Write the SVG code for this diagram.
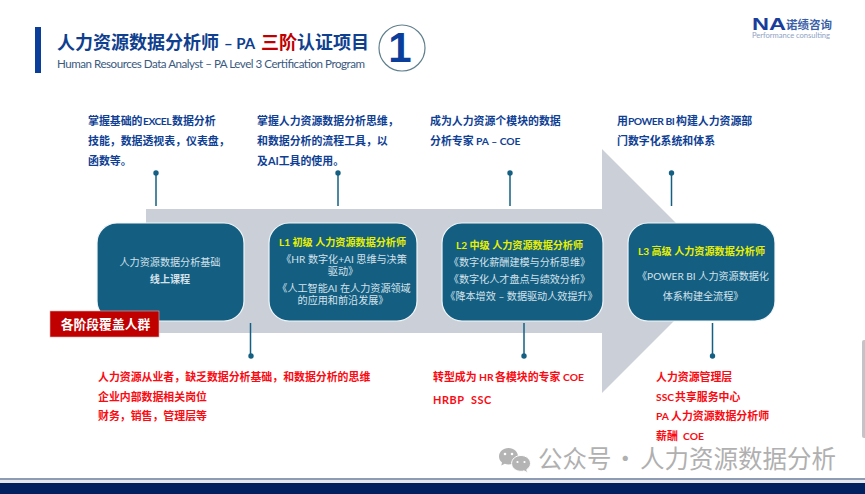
<svg xmlns="http://www.w3.org/2000/svg" width="865" height="494" viewBox="0 0 865 494">
<style>
text{font-family:"Lato","Noto Sans CJK SC",sans-serif}
.cjk{font-family:"Noto Sans CJK SC","Lato",sans-serif}
.blue{font-size:10.9px;font-weight:700;fill:#0f3f94}
.red{font-size:10.9px;font-weight:700;fill:#fb0a12}
.sm{font-size:10.3px}
.box{fill:#145e82;stroke:#f2f6f8;stroke-width:1.2}
.bt{font-size:10.1px;fill:#d5e2ea;text-anchor:middle}
.bh{font-size:10.1px;font-weight:700;fill:#e8f000;text-anchor:middle}
.ln{stroke:#156082;stroke-width:1.5;fill:none}
.dot{fill:#156082}
.wm{fill:#b4b4b4}
.eye{fill:#ffffff}
</style>
<rect width="865" height="494" fill="#ffffff"/>
<g id="header">
<rect x="35" y="27" width="6" height="46" fill="#0b3e9a"/>
<text class="cjk" y="49" font-size="18" font-weight="700" fill="#0f3f8f"><tspan x="57">人力资源数据分析师</tspan><tspan x="224" font-size="15" style="font-family:Lato">– PA</tspan><tspan x="261" fill="#c00000">三阶</tspan><tspan x="297">认证项目</tspan></text>
<text x="57" y="68" font-size="11.6" fill="#3c5a80" textLength="308">Human Resources Data Analyst – PA Level 3 Certification Program</text>
<circle cx="402" cy="48" r="23" fill="#ffffff" stroke="#5f7f8c" stroke-width="1.2"/>
<text x="400" y="62" font-size="42" font-weight="700" fill="#0b3e9a" text-anchor="middle" style="font-family:'Liberation Sans',sans-serif">1</text>
</g>
<g id="logo">
<text x="752" y="29.5" font-size="16" font-weight="700" fill="#1a3d9c" textLength="34" lengthAdjust="spacingAndGlyphs" style="font-family:'Liberation Sans',sans-serif">NA</text>
<text class="cjk" x="786" y="29" font-size="11.5" font-weight="700" fill="#3a5fa8">诺绩咨询</text>
<text x="752" y="38" font-size="7.6" fill="#8fa3c4" textLength="78">Performance consulting</text>
</g>
<path id="arrow" d="M146 209H602V149L724 271L602 393V333H146Z" fill="#cbd0d8"/>
<g id="connectors">
<path class="ln" d="M156 173V206M338 173V206M510 173V206M671.5 173V206M250.5 323V356M524 323V356M712.5 323V356"/>
<circle class="dot" cx="156" cy="173" r="2.7"/><circle class="dot" cx="338" cy="173" r="2.7"/><circle class="dot" cx="510" cy="173" r="2.7"/><circle class="dot" cx="671.5" cy="173" r="2.7"/>
<circle class="dot" cx="251" cy="356" r="2.7"/><circle class="dot" cx="524" cy="356" r="2.7"/><circle class="dot" cx="712.5" cy="356" r="2.7"/>
</g>
<g id="node-base">
<rect class="box" x="97" y="223" width="147" height="98" rx="20"/>
<text class="bt cjk" x="170" y="266">人力资源数据分析基础</text>
<text class="bt cjk" x="170" y="283" font-weight="700">线上课程</text>
</g>
<g id="node-l1">
<rect class="box" x="269" y="223" width="148" height="98" rx="20"/>
<text class="bh" x="342.5" y="246">L1 初级 人力资源数据分析师</text>
<text class="bt"><tspan x="344" y="263">《HR 数字化+AI 思维与决策</tspan><tspan x="343" y="275">驱动》</tspan></text>
<text class="bt"><tspan x="344" y="292">《人工智能AI 在人力资源领域</tspan><tspan x="343" y="304">的应用和前沿发展》</tspan></text>
</g>
<g id="node-l2">
<rect class="box" x="442" y="223" width="161" height="98" rx="20"/>
<text class="bh" x="519.5" y="249">L2 中级 人力资源数据分析师</text>
<text class="bt" x="519.5" y="266">《数字化薪酬建模与分析思维》</text>
<text class="bt" x="519.5" y="283">《数字化人才盘点与绩效分析》</text>
<text class="bt" x="521.5" y="300">《降本增效 – 数据驱动人效提升》</text>
</g>
<g id="node-l3">
<rect class="box" x="628" y="223" width="147" height="98" rx="20"/>
<text class="bh" x="701.5" y="255">L3 高级 人力资源数据分析师</text>
<text class="bt" x="703" y="280">《POWER BI 人力资源数据化</text>
<text class="bt" x="703" y="300">体系构建全流程》</text>
</g>
<g id="node-audience">
<rect x="50" y="311" width="109" height="26" fill="#c00000" stroke="#e8b0b0" stroke-width=".6"/>
<text class="cjk" x="105.5" y="329" font-size="12.8" font-weight="700" fill="#ffffff" text-anchor="middle">各阶段覆盖人群</text>
</g>
<g id="top-notes">
<text class="blue" x="88" y="125">掌握基础的<tspan class="sm" x="143" letter-spacing="-.5">EXCEL </tspan><tspan x="172">数据分析</tspan></text>
<text class="blue" x="88" y="145">技能，数据透视表，仪表盘，</text>
<text class="blue" x="88" y="165">函数等。</text>
<text class="blue" x="257" y="125">掌握人力资源数据分析思维，</text>
<text class="blue" x="257" y="145">和数据分析的流程工具，以</text>
<text class="blue" x="257" y="165">及AI工具的使用。</text>
<text class="blue" x="430" y="125">成为人力资源个模块的数据</text>
<text class="blue" x="430" y="145">分析专家 <tspan class="sm" x="476">PA – COE</tspan></text>
<text class="blue" x="617" y="125">用<tspan class="sm" x="628" letter-spacing="-.5">POWER BI </tspan><tspan x="676">构建人力资源部</tspan></text>
<text class="blue" x="617" y="145">门数字化系统和体系</text>
</g>
<g id="bottom-notes">
<text class="red" x="98" y="381">人力资源从业者，缺乏数据分析基础，和数据分析的思维</text>
<text class="red" x="98" y="401">企业内部数据相关岗位</text>
<text class="red" x="98" y="420">财务，销售，管理层等</text>
<text class="red" x="433" y="381">转型成为 <tspan class="sm" x="479">HR </tspan><tspan x="495">各模块的专家 </tspan><tspan class="sm" x="563">COE</tspan></text>
<text class="red" x="433" y="404" letter-spacing=".6" xml:space="preserve">HRBP  SSC</text>
<text class="red" x="656" y="381">人力资源管理层</text>
<text class="red" x="656" y="401"><tspan class="sm">SSC </tspan><tspan x="675">共享服务中心</tspan></text>
<text class="red" x="656" y="420"><tspan class="sm">PA </tspan><tspan x="671">人力资源数据分析师</tspan></text>
<text class="red" x="656" y="440">薪酬 <tspan class="sm" x="683">COE</tspan></text>
</g>
<g id="footer">
<rect x="0" y="478" width="865" height="2" fill="#8d9bb5"/>
<rect x="0" y="480" width="865" height="3" fill="#e4e7ee"/>
<rect x="0" y="483" width="865" height="11" fill="#00205f"/>
</g>
<rect id="edge" x="862" y="340" width="6" height="98" rx="2" fill="#c4c4c8"/>
<g id="watermark">
<path class="wm" d="M508.5 448C503 448 499 452 499 456.5C499 459 500.2 461 502 462.5L501.3 465.5L504.8 463.8C506 464.3 507.2 464.5 508.5 464.5C514 464.5 518 461 518 456.5C518 452 514 448 508.5 448Z"/>
<path class="wm" stroke="#ffffff" stroke-width="1" d="M521 455.5C515.8 455.5 511.6 459 511.6 463.5C511.6 468 515.8 471.3 521 471.3C522 471.3 523 471.2 524 470.8L527.5 472.8L526.8 469.5C529 468 530.5 466 530.5 463.5C530.5 459 526.2 455.5 521 455.5Z"/>
<circle class="eye" cx="505" cy="454" r="1.3"/><circle class="eye" cx="512" cy="454" r="1.3"/>
<circle class="eye" cx="517.5" cy="462" r="1.1"/><circle class="eye" cx="524.5" cy="462" r="1.1"/>
<text class="cjk" y="468" font-size="24.5" fill="#b0b0b0"><tspan x="538">公众号</tspan><tspan x="613">·</tspan><tspan x="640">人力资源数据分析</tspan></text>
</g>
</svg>
